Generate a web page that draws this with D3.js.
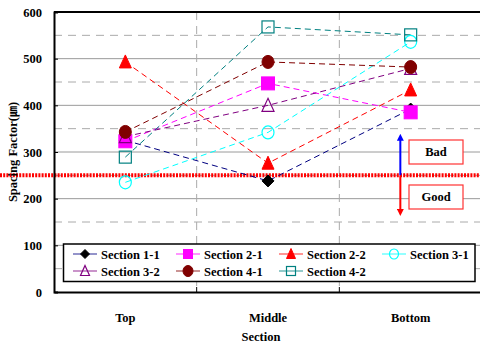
<!DOCTYPE html>
<html><head><meta charset="utf-8">
<script src="https://cdn.jsdelivr.net/npm/d3@7"></script>
<style>body{margin:0;background:#fff}svg{display:block}</style>
</head><body><svg id="c" width="480" height="345"></svg>
<script>
const categories = ["Top", "Middle", "Bottom"];
const seriesNames = ["Section 1-1","Section 2-1","Section 2-2","Section 3-1","Section 3-2","Section 4-1","Section 4-2"];
const s11 = [325, 238, 392];
const s21 = [323, 447, 385];
const s22 = [493, 276, 433];
const s31 = [235, 342, 536];
const s32 = [333, 400, 479];
const s41 = [343, 493, 482];
const s42 = [289, 568, 551];
const yTicks = [0,100,200,300,400,500,600];
const threshold = 250;
const badTop = 340, goodBottom = 162;

const FONT = "Liberation Serif";
const seriesValues = [s11,s21,s22,s31,s32,s41,s42];
const lineColors = ["#000080","#FF00FF","#FF0000","#00FFFF","#800080","#800000","#008080"];
const mk = [
 {shape:"diamond", fill:"#000", stroke:"#000"},
 {shape:"square", fill:"#FF00FF", stroke:"#FF00FF"},
 {shape:"triangle", fill:"#FF0000", stroke:"#FF0000"},
 {shape:"circle", fill:"none", stroke:"#00FFFF"},
 {shape:"triangle", fill:"none", stroke:"#800080"},
 {shape:"circle", fill:"#800000", stroke:"#800000"},
 {shape:"square", fill:"none", stroke:"#008080"}
];

const svg = d3.select("#c");
const L=54, R=482, T=12, B=292;
const x = d3.scaleBand().domain(categories).range([L,R]);
const y = d3.scaleLinear().domain([0,600]).range([B,T]);
const cx = c => x(c)+x.bandwidth()/2;
function txt(sel){ return sel.append("text").attr("font-family",FONT).attr("font-weight","bold").attr("font-size",12.5).attr("fill","#000"); }

// grid
const g = svg.append("g");
yTicks.slice(1,-1).forEach(v=>{
  g.append("line").attr("x1",L).attr("x2",R).attr("y1",y(v)).attr("y2",y(v)).attr("stroke","#9a9a9a").attr("stroke-width",1);
});
d3.range(50,600,100).forEach(v=>{
  g.append("line").attr("x1",L).attr("x2",R).attr("y1",y(v)).attr("y2",y(v)).attr("stroke","#aaa").attr("stroke-width",1).attr("stroke-dasharray","8,6");
});
categories.slice(1).forEach(c=>{
  g.append("line").attr("x1",x(c)).attr("x2",x(c)).attr("y1",T).attr("y2",B).attr("stroke","#aaa").attr("stroke-width",1).attr("stroke-dasharray","8,6");
});

// threshold
svg.append("line").attr("x1",0).attr("x2",R).attr("y1",y(threshold)).attr("y2",y(threshold))
  .attr("stroke","#FF0000").attr("stroke-width",4).attr("stroke-dasharray","2,1.2");

// axes frame
svg.append("line").attr("x1",L).attr("x2",R).attr("y1",T).attr("y2",T).attr("stroke","#000").attr("stroke-width",2);
const yAx = svg.append("g").attr("transform",`translate(${L},0)`).call(d3.axisLeft(y).tickValues(yTicks).tickSize(-4).tickPadding(12));
yAx.attr("font-family",null).attr("font-size",null);
yAx.select(".domain").attr("stroke-width",2);
yAx.selectAll("text").attr("font-family",FONT).attr("font-size",12.5).attr("font-weight","bold").attr("fill","#000");
const xAx = svg.append("g").attr("transform",`translate(0,${B})`).call(d3.axisBottom(x).tickSize(0).tickPadding(21));
xAx.attr("font-family",null).attr("font-size",null);
xAx.select(".domain").attr("stroke-width",2);
xAx.selectAll("text").attr("font-family",FONT).attr("font-size",12.5).attr("font-weight","bold").attr("fill","#000");
categories.slice(1).forEach(c=>{
  svg.append("line").attr("x1",x(c)).attr("x2",x(c)).attr("y1",B).attr("y2",B-5).attr("stroke","#000");
});
txt(svg).attr("x",(L+R)/2-7).attr("y",341).attr("text-anchor","middle").text("Section");
const yl = txt(svg).attr("transform",`translate(17,${(T+B)/2}) rotate(-90)`).attr("text-anchor","middle");
yl.append("tspan").text("Spacing Factor(");
yl.append("tspan").attr("font-family","Noto Sans CJK JP").attr("font-size",11).text("㎛");
yl.append("tspan").text(")");

// lines
const line = d3.line().x((d,i)=>cx(categories[i])).y(d=>y(d));
seriesValues.forEach((vals,k)=>{
  svg.append("path").attr("d",line(vals)).attr("fill","none").attr("stroke",lineColors[k]).attr("stroke-width",1).attr("stroke-dasharray","6,4");
});

function marker(sel, m, px, py, s){
  const r=s/2;
  let el;
  if(m.shape==="circle") el=sel.append("ellipse").attr("cx",px).attr("cy",py).attr("rx",r).attr("ry",r+0.5);
  else if(m.shape==="square") el=sel.append("rect").attr("x",px-r).attr("y",py-r).attr("width",s).attr("height",s);
  else if(m.shape==="triangle") el=sel.append("path").attr("d",`M${px},${py-r-1}L${px+r},${py+r}L${px-r},${py+r}Z`);
  else el=sel.append("path").attr("d",`M${px},${py-r}L${px+r},${py}L${px},${py+r}L${px-r},${py}Z`);
  el.attr("fill",m.fill).attr("stroke",m.stroke).attr("stroke-width",m.fill==="none"?1.2:1);
}
seriesValues.forEach((vals,k)=>{
  vals.forEach((v,i)=>{
    const sz = mk[k].shape==="diamond"?12:(mk[k].shape==="square"&&mk[k].fill!=="none"?13:12);
    marker(svg, mk[k], cx(categories[i]), y(v), sz);
  });
});

// arrows
const ax = x("Bottom")+61;
const defs = svg.append("defs");
function head(id,col){
  defs.append("marker").attr("id",id).attr("viewBox","0 0 10 10").attr("refX",5).attr("refY",5)
    .attr("markerWidth",7).attr("markerHeight",7).attr("markerUnits","userSpaceOnUse").attr("orient","auto")
    .append("path").attr("d","M0,0L10,5L0,10Z").attr("fill",col);
}
head("hb","#0000FF"); head("hr","#FF0000");
svg.append("line").attr("x1",ax).attr("x2",ax).attr("y1",y(threshold)).attr("y2",y(badTop)+4).attr("stroke","#0000FF").attr("stroke-width",2).attr("marker-end","url(#hb)");
svg.append("line").attr("x1",ax).attr("x2",ax).attr("y1",y(threshold)).attr("y2",y(goodBottom)-4).attr("stroke","#FF0000").attr("stroke-width",2).attr("marker-end","url(#hr)");
[["Bad",140],["Good",185]].forEach(([t,yy])=>{
  svg.append("rect").attr("x",409).attr("y",yy).attr("width",54).attr("height",24).attr("fill","#fff").attr("stroke","#FF3333").attr("stroke-width",1.2);
  txt(svg).attr("x",436).attr("y",yy+16).attr("text-anchor","middle").text(t);
});

// legend
const lg = svg.append("g");
lg.append("rect").attr("x",63.5).attr("y",244).attr("width",411.5).attr("height",37.5).attr("fill","#fff").attr("stroke","#000").attr("stroke-width",1.5);
seriesNames.forEach((n,k)=>{
  const col=k%4, row=Math.floor(k/4);
  const lx = 73 + col*103, ly = 254 + row*17;
  lg.append("line").attr("x1",lx).attr("x2",lx+24).attr("y1",ly).attr("y2",ly).attr("stroke",lineColors[k]).attr("stroke-opacity",0.7).attr("stroke-width",1.2);
  const m = Object.assign({}, mk[k]);
  marker(lg, m, lx+12, ly, m.shape==="circle"&&m.fill!=="none"?10:9);
  txt(lg).attr("x",lx+28).attr("y",ly+4.5).text(n);
});
</script></body></html>
